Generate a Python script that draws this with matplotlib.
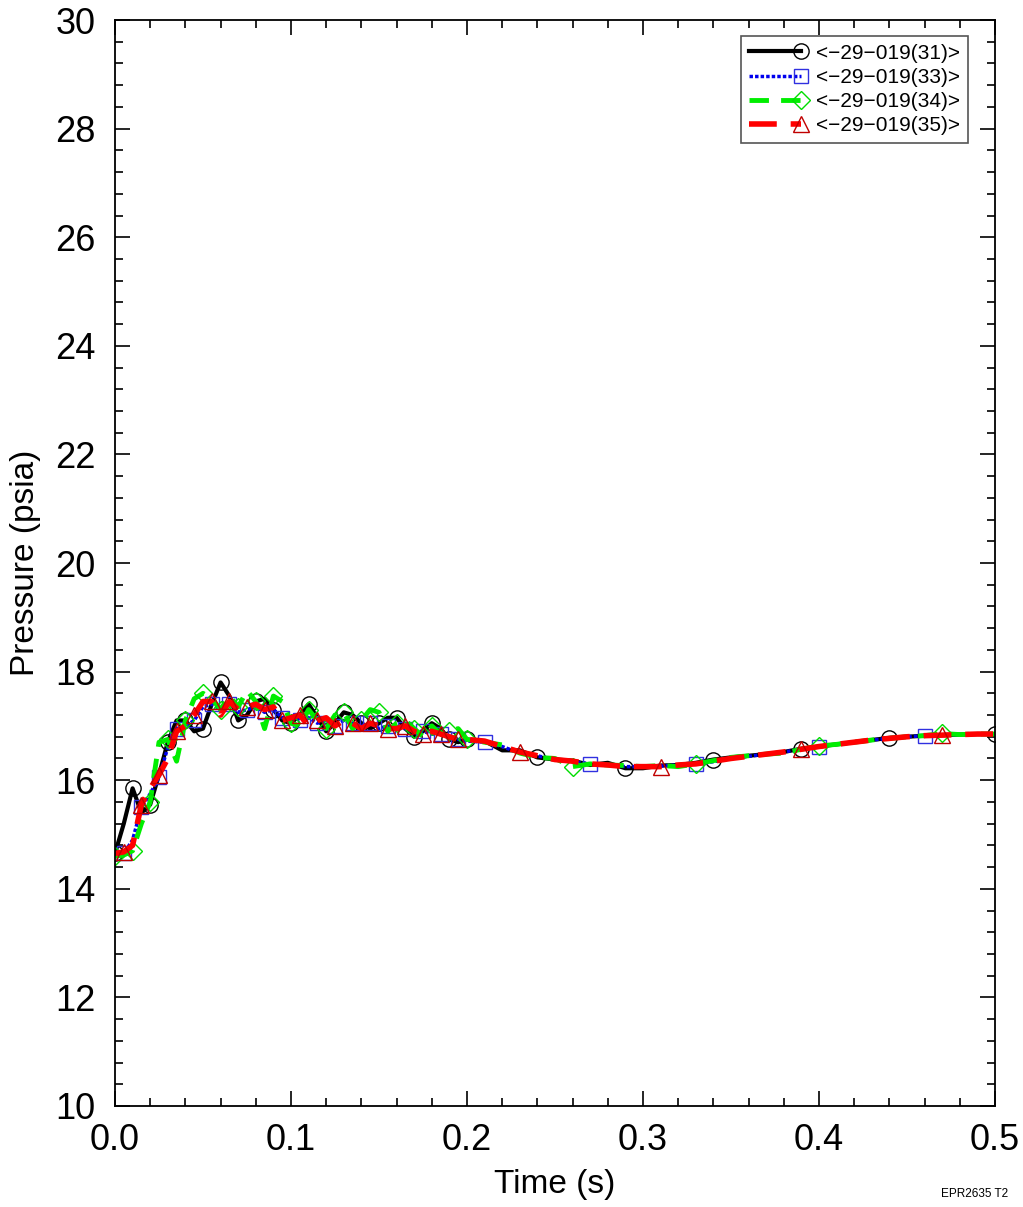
import numpy as np
import matplotlib
matplotlib.use("Agg")
import matplotlib.pyplot as plt
from matplotlib.ticker import MultipleLocator
from matplotlib.legend_handler import HandlerLine2D
from matplotlib.lines import Line2D

plt.rcParams['font.family'] = ['Liberation Sans', 'DejaVu Sans']

# time base: 0.005 s steps up to 0.2 s, then 0.01 s steps to 0.5 s
t_early = [0.000, 0.005, 0.010, 0.015, 0.020, 0.025, 0.030, 0.035, 0.040, 0.045,
           0.050, 0.055, 0.060, 0.065, 0.070, 0.075, 0.080, 0.085, 0.090, 0.095,
           0.100, 0.105, 0.110, 0.115, 0.120, 0.125, 0.130, 0.135, 0.140, 0.145,
           0.150, 0.155, 0.160, 0.165, 0.170, 0.175, 0.180, 0.185, 0.190, 0.195,
           0.200]
t_late = [0.21, 0.22, 0.23, 0.24, 0.25, 0.26, 0.27, 0.28, 0.29, 0.30,
          0.31, 0.32, 0.33, 0.34, 0.35, 0.36, 0.37, 0.38, 0.39, 0.40,
          0.41, 0.42, 0.43, 0.44, 0.45, 0.46, 0.47, 0.48, 0.49, 0.50]
time = np.array(t_early + t_late)

p31 = [14.65, 15.20, 15.85, 15.40, 15.55, 16.10, 16.70, 17.10, 17.10, 16.90,
       16.95, 17.40, 17.80, 17.55, 17.10, 17.20, 17.45, 17.50, 17.30, 17.10,
       17.05, 17.20, 17.40, 17.15, 16.90, 17.05, 17.25, 17.20, 17.05, 16.95,
       17.05, 17.15, 17.15, 16.95, 16.80, 16.90, 17.05, 16.95, 16.75, 16.70,
       16.75,
       16.72, 16.55, 16.55, 16.42, 16.38, 16.36, 16.28, 16.32, 16.22, 16.22,
       16.27, 16.28, 16.32, 16.38, 16.42, 16.45, 16.48, 16.52, 16.58, 16.62,
       16.66, 16.70, 16.74, 16.78, 16.80, 16.82, 16.83, 16.84, 16.85, 16.85]

p33 = [14.62, 14.65, 14.90, 15.50, 15.75, 16.05, 16.60, 16.95, 17.00, 17.10,
       17.35, 17.40, 17.30, 17.40, 17.25, 17.30, 17.35, 17.25, 17.30, 17.15,
       17.20, 17.10, 17.15, 17.05, 17.10, 17.00, 17.10, 17.05, 17.00, 17.05,
       16.95, 17.00, 16.95, 16.95, 16.90, 16.90, 16.85, 16.85, 16.80, 16.75,
       16.72,
       16.70, 16.62, 16.50, 16.45, 16.38, 16.34, 16.30, 16.28, 16.25, 16.25,
       16.26, 16.28, 16.30, 16.34, 16.40, 16.44, 16.48, 16.52, 16.57, 16.61,
       16.66, 16.70, 16.74, 16.77, 16.80, 16.82, 16.83, 16.84, 16.85, 16.85]

p34 = [14.60, 14.62, 14.70, 15.20, 15.60, 16.70, 16.75, 16.35, 17.10, 17.50,
       17.60, 17.50, 17.30, 17.55, 17.35, 17.65, 17.45, 16.95, 17.55, 17.45,
       17.05, 17.00, 17.30, 17.10, 16.95, 17.20, 17.25, 16.95, 17.10, 17.30,
       17.25, 16.90, 17.05, 17.10, 16.95, 16.80, 17.00, 16.85, 16.90, 16.95,
       16.75,
       16.70, 16.65, 16.50, 16.42, 16.40, 16.25, 16.30, 16.28, 16.27, 16.25,
       16.27, 16.25, 16.30, 16.36, 16.42, 16.45, 16.48, 16.50, 16.57, 16.63,
       16.66, 16.70, 16.74, 16.77, 16.80, 16.82, 16.86, 16.84, 16.85, 16.85]

p35 = [14.65, 14.68, 14.80, 15.55, 15.85, 16.10, 16.40, 16.90, 17.00, 17.20,
       17.45, 17.45, 17.20, 17.45, 17.30, 17.35, 17.40, 17.30, 17.35, 17.10,
       17.15, 17.20, 17.00, 17.10, 17.15, 17.00, 17.10, 17.05, 16.95, 17.05,
       17.00, 16.95, 16.95, 17.00, 16.90, 16.85, 16.90, 16.85, 16.80, 16.75,
       16.75,
       16.72, 16.62, 16.52, 16.45, 16.38, 16.35, 16.30, 16.28, 16.25, 16.25,
       16.25, 16.28, 16.30, 16.35, 16.40, 16.44, 16.48, 16.52, 16.57, 16.62,
       16.66, 16.70, 16.74, 16.77, 16.80, 16.82, 16.83, 16.84, 16.85, 16.85]

labels = ['<\u221229\u2212019(31)>', '<\u221229\u2212019(33)>',
          '<\u221229\u2212019(34)>', '<\u221229\u2212019(35)>']

# marker positions (index into time)
mk31 = list(range(0, 41, 2)) + [44, 49, 54, 59, 64, 70]
mk33 = list(range(1, 41, 2)) + [41, 47, 53, 60, 66]
mk34 = list(range(0, 41, 2)) + [46, 53, 60, 67]
mk35 = list(range(1, 41, 2)) + [43, 51, 59, 67]

fig = plt.figure(figsize=(10.23, 12.07), dpi=100)
ax = fig.add_axes([0.1124, 0.0837, 0.8602, 0.8997])

l1, = ax.plot(time, p31, color='black', lw=3, ls='-', marker='o', ms=11,
              mfc='none', mec='black', mew=1.0, markevery=mk31, label=labels[0])
l2, = ax.plot(time, p33, color='#0000ee', lw=2.5, ls=(0, (1, 0.6)), marker='s', ms=10,
              mfc='none', mec='#3030e0', mew=1.0, markevery=mk33, label=labels[1])
l3, = ax.plot(time, p34, color='#00ee00', lw=3.5, ls=(0, (4, 2.5)), marker='D', ms=9,
              mfc='none', mec='#00dd00', mew=1.0, markevery=mk34, label=labels[2])
l4, = ax.plot(time, p35, color='#ff0000', lw=4, ls=(0, (5, 2.5)), marker='^', ms=11,
              mfc='none', mec='#c00000', mew=1.0, markevery=mk35, label=labels[3])


class EndMarker(HandlerLine2D):
    # legend sample: line with the marker sitting at its right end
    def create_artists(self, legend, orig_handle, xdescent, ydescent,
                       width, height, fontsize, trans):
        y = (height - ydescent) / 2
        xs = np.array([-xdescent, -xdescent + width])
        line = Line2D(xs, [y, y])
        self.update_prop(line, orig_handle, legend)
        line.set_markevery([1])
        line.set_transform(trans)
        return [line]


leg = ax.legend(handles=[l1, l2, l3, l4], loc='upper right',
                bbox_to_anchor=(0.969, 0.985), fontsize=15,
                handler_map={l: EndMarker() for l in [l1, l2, l3, l4]},
                handlelength=2.5, handletextpad=0.75, labelspacing=0.25,
                borderpad=0.35, borderaxespad=0, fancybox=False, framealpha=1,
                edgecolor='#555555')
leg.get_frame().set_linewidth(1.2)

ax.set_xlim(0, 0.5)
ax.set_ylim(10, 30)
ax.xaxis.set_major_locator(MultipleLocator(0.1))
ax.xaxis.set_minor_locator(MultipleLocator(0.02))
ax.yaxis.set_major_locator(MultipleLocator(2))
ax.yaxis.set_minor_locator(MultipleLocator(0.4))
ax.xaxis.set_major_formatter(plt.FormatStrFormatter('%.1f'))
ax.tick_params(which='both', direction='in', top=True, right=True, labelsize=26)
ax.tick_params(axis='x', which='major', pad=12)
ax.tick_params(axis='y', which='major', pad=14)
ax.tick_params(which='major', length=11, width=1.2)
ax.tick_params(which='minor', length=6, width=1.2)
for s in ax.spines.values():
    s.set_linewidth(1.3)

ax.set_xlabel('Time (s)', fontsize=24, labelpad=8)
ax.set_ylabel('Pressure (psia)', fontsize=24, labelpad=10)

fig.text(0.953, 0.006, 'EPR2635 T2', fontsize=8.5, ha='center', va='bottom')

fig.savefig('out.png', dpi=100)
